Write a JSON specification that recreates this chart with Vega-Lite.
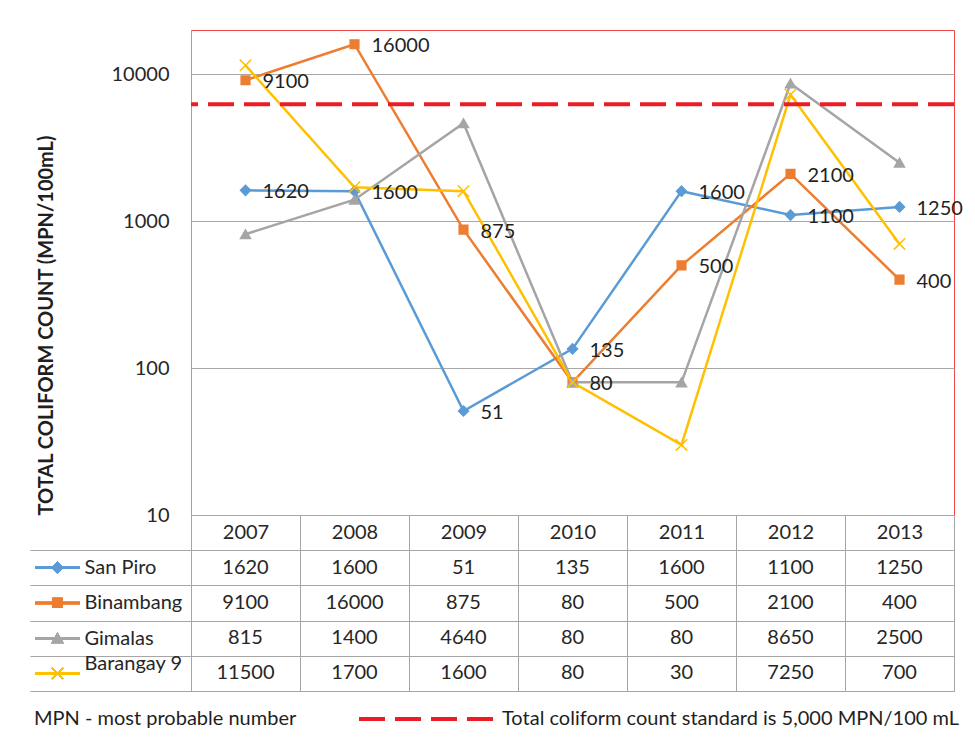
{
  "$schema": "https://vega.github.io/schema/vega-lite/v6.json",
  "background": "white",
  "padding": {"left": 29, "top": 29, "right": 10, "bottom": 10},
  "config": {"font": "Lato", "view": {"stroke": null}},
  "datasets": {
    "d": [
      {"series": "San Piro", "year": "2007", "value": 1620},
      {"series": "San Piro", "year": "2008", "value": 1600},
      {"series": "San Piro", "year": "2009", "value": 51},
      {"series": "San Piro", "year": "2010", "value": 135},
      {"series": "San Piro", "year": "2011", "value": 1600},
      {"series": "San Piro", "year": "2012", "value": 1100},
      {"series": "San Piro", "year": "2013", "value": 1250},
      {"series": "Binambang", "year": "2007", "value": 9100},
      {"series": "Binambang", "year": "2008", "value": 16000},
      {"series": "Binambang", "year": "2009", "value": 875},
      {"series": "Binambang", "year": "2010", "value": 80},
      {"series": "Binambang", "year": "2011", "value": 500},
      {"series": "Binambang", "year": "2012", "value": 2100},
      {"series": "Binambang", "year": "2013", "value": 400},
      {"series": "Gimalas", "year": "2007", "value": 815},
      {"series": "Gimalas", "year": "2008", "value": 1400},
      {"series": "Gimalas", "year": "2009", "value": 4640},
      {"series": "Gimalas", "year": "2010", "value": 80},
      {"series": "Gimalas", "year": "2011", "value": 80},
      {"series": "Gimalas", "year": "2012", "value": 8650},
      {"series": "Gimalas", "year": "2013", "value": 2500},
      {"series": "Barangay 9", "year": "2007", "value": 11500},
      {"series": "Barangay 9", "year": "2008", "value": 1700},
      {"series": "Barangay 9", "year": "2009", "value": 1600},
      {"series": "Barangay 9", "year": "2010", "value": 80},
      {"series": "Barangay 9", "year": "2011", "value": 30},
      {"series": "Barangay 9", "year": "2012", "value": 7250},
      {"series": "Barangay 9", "year": "2013", "value": 700}
    ]
  },
  "spacing": 35,
  "bounds": "flush",
  "resolve": {"scale": {"x": "independent", "y": "independent"}},
  "vconcat": [
    {
      "width": 763,
      "height": 485,
      "view": {"stroke": "#f04848", "strokeWidth": 1},
      "layer": [
        {
          "data": {"name": "d"},
          "mark": {"type": "line", "strokeWidth": 2.5},
          "encoding": {
            "x": {"field": "year", "type": "ordinal", "scale": {"type": "point", "padding": 0.5}, "axis": null},
            "y": {
              "field": "value", "type": "quantitative",
              "scale": {"type": "log", "domain": [10, 20000], "nice": false},
              "axis": {
                "values": [10, 100, 1000, 10000], "format": "d", "ticks": false,
                "domainColor": "#a0a0a0", "gridColor": "#a8a8a8",
                "labelFontSize": 20, "labelColor": "#262626", "labelPadding": 22,
                "title": "TOTAL COLIFORM COUNT (MPN/100mL)", "titleFontSize": 20,
                "titleFontWeight": "bold", "titleColor": "#1f1f1f", "titleAnchor": "start",
                "titlePadding": 55
              }
            },
            "color": {
              "field": "series", "type": "nominal",
              "scale": {"domain": ["San Piro", "Binambang", "Gimalas", "Barangay 9"], "range": ["#5b9bd5", "#ed7d31", "#a5a5a5", "#ffc000"]},
              "legend": null
            },
            "order": {"field": "series"}
          }
        },
        {
          "data": {"name": "d"},
          "mark": {"type": "point", "filled": true, "strokeWidth": 1.5, "opacity": 1},
          "encoding": {
            "x": {"field": "year", "type": "ordinal"},
            "y": {"field": "value", "type": "quantitative"},
            "color": {"field": "series", "type": "nominal", "scale": {"domain": ["San Piro", "Binambang", "Gimalas", "Barangay 9"], "range": ["#5b9bd5", "#ed7d31", "#a5a5a5", "#ffc000"]}, "legend": null},
            "stroke": {"field": "series", "type": "nominal", "scale": {"domain": ["San Piro", "Binambang", "Gimalas", "Barangay 9"], "range": ["#5b9bd5", "#ed7d31", "#a5a5a5", "#ffc000"]}, "legend": null},
            "shape": {"field": "series", "type": "nominal", "scale": {"domain": ["San Piro", "Binambang", "Gimalas", "Barangay 9"], "range": ["diamond", "square", "triangle-up", "M-1,-1L1,1M-1,1L1,-1"]}, "legend": null},
            "size": {"field": "series", "type": "nominal", "scale": {"type": "ordinal", "domain": ["San Piro", "Binambang", "Gimalas", "Barangay 9"], "range": [100, 75, 100, 130]}, "legend": null}
          }
        },
        {
          "data": {"values": [{"standard": 6250, "label": "Total coliform count standard is 5,000 MPN/100 mL"}]},
          "mark": {"type": "rule", "strokeWidth": 4, "color": "#ed1c24"},
          "encoding": {
            "y": {"field": "standard", "type": "quantitative"},
            "strokeDash": {
              "field": "label", "type": "nominal",
              "scale": {"range": [[26, 10]]},
              "legend": {
                "orient": "none", "legendX": -157, "legendY": 679, "direction": "horizontal",
                "title": "MPN - most probable number", "titleOrient": "left", "titleLimit": 500,
                "titleFontSize": 20, "titleFontWeight": "normal", "titleColor": "#1f1f1f",
                "titlePadding": 52, "titleBaseline": "middle", "titleAnchor": "middle",
                "symbolType": "M0,0H27", "symbolSize": 100, "symbolStrokeWidth": 4,
                "symbolStrokeColor": "#ed1c24", "symbolFillColor": "transparent",
                "labelFontSize": 20, "labelColor": "#1f1f1f",
                "labelOffset": 133, "labelLimit": 0
              }
            }
          }
        },
        {
          "data": {"name": "d"},
          "transform": [{"filter": "datum.series === 'San Piro' || datum.series === 'Binambang'"}],
          "mark": {"type": "text", "align": "left", "baseline": "middle", "dx": 17, "dy": 2, "fontSize": 20, "color": "#1f1f1f"},
          "encoding": {
            "x": {"field": "year", "type": "ordinal"},
            "y": {"field": "value", "type": "quantitative"},
            "text": {"field": "value", "type": "quantitative", "format": "d"}
          }
        }
      ]
    },
    {
      "width": 763,
      "height": 141,
      "view": {"stroke": "#a6a6a6", "strokeWidth": 1},
      "data": {"name": "d"},
      "resolve": {"scale": {"x": "independent"}, "axis": {"x": "independent"}},
      "layer": [
        {
          "mark": {"type": "text", "fontSize": 20, "color": "#262626"},
          "encoding": {
            "x": {
              "field": "year", "type": "ordinal",
              "scale": {"type": "band", "paddingInner": 0, "paddingOuter": 0},
              "axis": {
                "orient": "top", "title": null, "labelAngle": 0, "tickBand": "extent",
                "tickSize": 35, "tickColor": "#a6a6a6", "domain": false, "grid": true,
                "gridColor": "#a6a6a6", "labelPadding": -17, "labelBaseline": "middle",
                "labelFontSize": 20, "labelColor": "#262626"
              }
            },
            "y": {
              "field": "series", "type": "nominal",
              "sort": ["San Piro", "Binambang", "Gimalas", "Barangay 9"],
              "scale": {"paddingInner": 0, "paddingOuter": 0},
              "axis": {
                "orient": "left", "title": null, "tickBand": "extent", "tickSize": 161,
                "tickColor": "#a6a6a6", "domain": false, "grid": true, "gridColor": "#a6a6a6",
                "labelAlign": "left", "labelPadding": -54, "labelFontSize": 20, "labelColor": "#262626",
                "labelBaseline": {"condition": {"test": "datum.value === 'Barangay 9'", "value": "bottom"}, "value": "middle"}
              }
            },
            "text": {"field": "value", "type": "quantitative", "format": "d"}
          }
        },
        {
          "layer": [
            {
              "mark": {"type": "rule", "strokeWidth": 2.5},
              "encoding": {
                "x": {"datum": -1.43, "type": "quantitative", "scale": {"domain": [0, 7], "nice": false, "zero": false}, "axis": null},
                "x2": {"datum": -1.02},
                "y": {"field": "series", "type": "nominal", "sort": ["San Piro", "Binambang", "Gimalas", "Barangay 9"]},
                "color": {"field": "series", "type": "nominal", "scale": {"domain": ["San Piro", "Binambang", "Gimalas", "Barangay 9"], "range": ["#5b9bd5", "#ed7d31", "#a5a5a5", "#ffc000"]}, "legend": null}
              }
            },
            {
              "mark": {"type": "point", "filled": true, "strokeWidth": 1.5, "opacity": 1},
              "encoding": {
                "x": {"datum": -1.225, "type": "quantitative", "axis": null},
                "y": {"field": "series", "type": "nominal", "sort": ["San Piro", "Binambang", "Gimalas", "Barangay 9"]},
                "color": {"field": "series", "type": "nominal", "scale": {"domain": ["San Piro", "Binambang", "Gimalas", "Barangay 9"], "range": ["#5b9bd5", "#ed7d31", "#a5a5a5", "#ffc000"]}, "legend": null},
                "stroke": {"field": "series", "type": "nominal", "scale": {"domain": ["San Piro", "Binambang", "Gimalas", "Barangay 9"], "range": ["#5b9bd5", "#ed7d31", "#a5a5a5", "#ffc000"]}, "legend": null},
                "shape": {"field": "series", "type": "nominal", "scale": {"domain": ["San Piro", "Binambang", "Gimalas", "Barangay 9"], "range": ["diamond", "square", "triangle-up", "M-1,-1L1,1M-1,1L1,-1"]}, "legend": null},
                "size": {"field": "series", "type": "nominal", "scale": {"type": "ordinal", "domain": ["San Piro", "Binambang", "Gimalas", "Barangay 9"], "range": [80, 60, 80, 110]}, "legend": null}
              }
            }
          ]
        }
      ]
    }
  ]
}
